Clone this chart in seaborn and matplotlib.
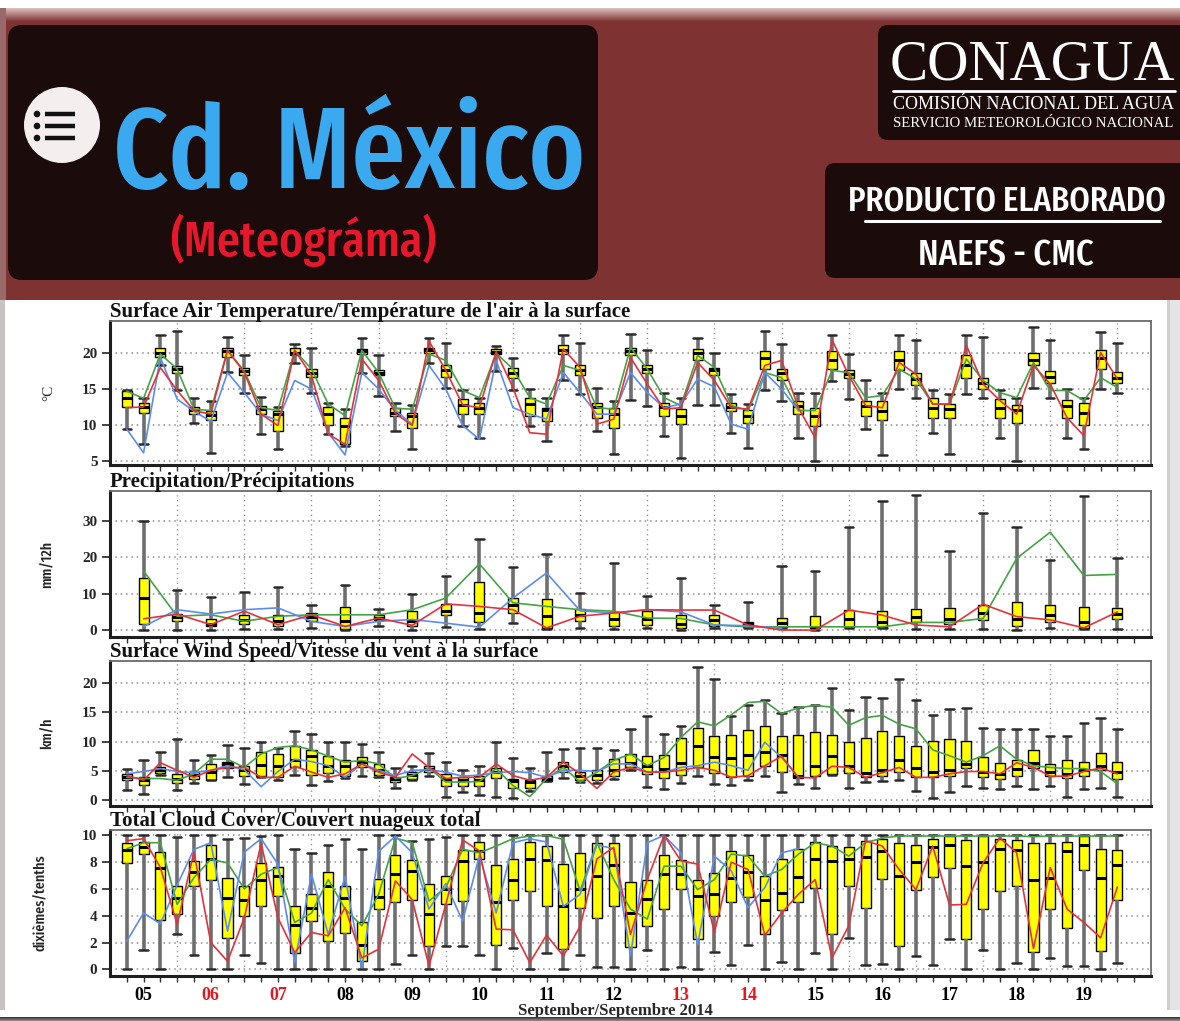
import numpy as np
import pandas as pd
import matplotlib
matplotlib.use('Agg')
import matplotlib.pyplot as plt
from matplotlib import font_manager
from matplotlib.font_manager import FontProperties
from matplotlib.patches import FancyBboxPatch, Rectangle, Circle
import seaborn as sns

# ============================================================================
# DATOS (leidos del meteograma NAEFS-CMC, pasos de 6 h del 05 al 19 sep 2014)
# ============================================================================

steps = list(range(60))            # cajas cada 6 h
steps_12h = list(range(1, 60, 2))  # precipitacion cada 12 h
day_labels = ['05', '06', '07', '08', '09', '10', '11', '12',
              '13', '14', '15', '16', '17', '18', '19']
weekend_days = ['06', '07', '13', '14']

# --- Temperatura (C) ---
t_lo = [9.4, 7.3, 18.3, 14.8, 10.2, 6.1, 17.4, 14.5, 8.7, 6.6,
        18.7, 14.5, 8.7, 7.1, 17.3, 14.1, 9.2, 6.6, 18.6, 15.2,
        9.9, 8.2, 17.5, 14.9, 9.9, 7.8, 16.2, 14.3, 9.2, 5.9,
        13.5, 12.7, 8.5, 5.4, 12.8, 12.8, 8.8, 6.8, 14.9, 13.4,
        8.1, 5.0, 16.1, 13.6, 9.4, 5.8, 15.0, 13.8, 8.8, 5.9,
        14.3, 13.8, 8.2, 5.0, 15.2, 13.8, 8.2, 6.7, 15.0, 14.4]
t_q1 = [12.5, 11.7, 19.5, 17.3, 11.5, 10.7, 19.5, 17.0, 11.5, 9.2,
        19.7, 16.7, 10.0, 7.4, 19.9, 16.9, 11.3, 9.5, 20.1, 16.7,
        11.5, 11.5, 19.9, 16.5, 11.3, 10.6, 19.9, 16.9, 11.0, 9.6,
        19.7, 17.3, 11.3, 10.1, 19.1, 16.9, 12.0, 10.2, 17.8, 16.3,
        11.5, 9.9, 17.8, 16.6, 11.3, 10.7, 17.6, 15.6, 10.9, 11.0,
        16.6, 15.0, 11.0, 10.3, 18.3, 15.8, 10.9, 10.0, 17.8, 15.9]
t_med = [13.8, 12.5, 20.1, 17.8, 12.05, 11.4, 20.3, 17.5, 12.2, 11.5,
         20.1, 17.3, 11.5, 9.9, 20.3, 17.2, 11.7, 11.3, 20.5, 17.6,
         12.8, 12.4, 20.2, 17.3, 12.9, 12.1, 20.5, 17.7, 12.5, 11.5,
         20.3, 17.8, 12.5, 11.3, 20.0, 17.6, 12.5, 11.3, 19.4, 17.2,
         12.7, 11.3, 19.0, 17.1, 12.7, 12.0, 19.0, 16.4, 12.4, 12.2,
         18.3, 15.9, 12.4, 12.1, 19.1, 16.7, 12.7, 11.7, 19.4, 16.5]
t_q3 = [14.7, 13.1, 20.75, 18.2, 12.5, 12.0, 20.7, 17.9, 12.7, 11.9,
        20.7, 17.8, 12.5, 10.9, 20.6, 17.6, 12.3, 11.7, 20.8, 18.3,
        13.6, 13.0, 20.6, 18.0, 13.8, 12.4, 21.1, 18.4, 13.1, 12.3,
        20.8, 18.3, 13.1, 12.2, 20.6, 18.0, 13.1, 12.1, 20.3, 17.8,
        13.4, 12.4, 20.3, 17.6, 13.4, 13.4, 20.3, 17.2, 13.8, 12.9,
        19.7, 16.6, 13.6, 12.8, 20.1, 17.5, 13.5, 13.0, 20.5, 17.4]
t_hi = [14.9, 13.8, 22.5, 23.1, 13.8, 13.3, 22.3, 19.8, 13.9, 12.5,
        21.3, 20.8, 13.1, 12.2, 22.1, 19.8, 13.1, 12.8, 22.1, 21.4,
        14.8, 13.8, 21.0, 19.3, 15.0, 13.8, 22.5, 21.4, 15.2, 13.4,
        22.7, 20.4, 14.5, 13.8, 22.1, 20.1, 14.3, 12.9, 23.1, 21.3,
        14.5, 14.4, 22.5, 19.9, 16.2, 14.4, 22.5, 21.9, 14.8, 14.3,
        22.6, 22.2, 14.8, 13.8, 23.7, 21.8, 15.0, 13.8, 22.9, 21.4]
t_green = [14.7, 13.7, 19.9, 17.8, 12.2, 12.0, 20.4, 17.5, 12.4, 12.0,
           20.4, 17.8, 12.9, 11.3, 20.4, 17.3, 12.3, 12.2, 19.9, 19.0,
           14.8, 13.8, 20.0, 17.8, 13.8, 12.9, 18.3, 17.6, 12.4, 12.2,
           20.8, 17.8, 13.8, 12.7, 19.7, 18.0, 12.7, 12.0, 17.3, 16.6,
           12.0, 12.0, 17.6, 17.3, 13.8, 14.1, 17.8, 16.4, 12.9, 12.9,
           19.2, 16.2, 14.5, 13.8, 18.7, 14.8, 14.8, 13.4, 16.6, 15.2]
t_red = [12.4, 12.5, 18.0, 14.8, 12.0, 11.5, 20.4, 17.3, 11.5, 9.9,
         20.4, 16.9, 8.7, 7.3, 19.2, 16.2, 11.6, 9.9, 21.7, 17.6,
         12.8, 12.4, 20.2, 15.2, 8.9, 8.7, 20.6, 18.0, 10.1, 10.8,
         19.4, 15.7, 12.2, 12.4, 18.7, 16.2, 12.4, 12.2, 18.3, 19.0,
         12.4, 8.2, 21.9, 16.9, 12.7, 12.4, 18.7, 17.1, 12.9, 12.9,
         21.1, 15.7, 13.4, 11.5, 18.3, 15.7, 11.0, 8.5, 20.1, 16.4]
t_blue = [9.4, 6.1, 19.4, 13.6, 11.9, 10.5, 17.3, 14.5, 11.5, 10.6,
          16.2, 15.0, 8.9, 5.8, 17.3, 15.0, 12.0, 10.1, 18.3, 15.0,
          9.9, 8.0, 19.0, 12.4, 11.5, 10.8, 17.3, 14.5, 11.5, 11.5,
          17.3, 14.5, 12.4, 12.9, 16.4, 15.3, 10.1, 9.4, 17.3, 15.0,
          12.0]

# --- Precipitacion (mm/12h) ---
p_lo = [0.1, 0.0, 0.0, 0.2, 0.2, 0.5, 0.0, 1.0, 0.1, 0.8,
        0.4, 1.9, 0.4, 0.6, 0.4, 0.6, 0.0, 0.5, 0.5, 0.5,
        0.0, 0.5, 0.6, 0.3, 0.3, 0.3, 0.0, 0.6, 0.3, 0.3]
p_q1 = [1.8, 2.6, 1.0, 1.8, 1.0, 2.4, 0.4, 2.7, 1.0, 4.2,
        2.1, 4.7, 0.6, 2.6, 1.0, 1.3, 0.5, 1.2, 0.9, 0.9,
        0.5, 0.9, 0.9, 2.3, 1.6, 2.8, 1.2, 2.1, 0.7, 3.0]
p_med = [8.7, 3.5, 1.7, 2.9, 2.4, 3.5, 2.6, 3.3, 2.6, 5.3,
         4.7, 7.0, 3.8, 4.2, 3.1, 3.1, 1.8, 2.8, 1.6, 2.0,
         0.9, 3.0, 2.3, 3.7, 3.0, 4.6, 3.0, 4.1, 2.3, 4.3]
p_q3 = [14.4, 4.4, 3.1, 4.2, 4.2, 4.7, 6.4, 4.1, 5.3, 7.2,
        13.3, 8.8, 8.4, 5.9, 5.0, 5.3, 4.1, 4.1, 2.3, 3.2,
        3.9, 5.5, 5.3, 5.8, 6.0, 6.9, 7.8, 6.9, 6.4, 6.0]
p_hi = [30.0, 10.9, 9.0, 10.5, 11.8, 6.8, 12.3, 5.9, 9.8, 14.8,
        24.9, 17.3, 20.8, 10.2, 18.5, 9.3, 14.4, 6.9, 7.8, 17.7,
        16.2, 28.2, 35.5, 37.0, 21.7, 32.1, 28.2, 19.3, 36.7, 19.7]
p_green = [16.2, 3.8, 4.2, 2.4, 3.8, 4.2, 4.2, 4.2, 5.6, 8.8,
           18.2, 7.5, 6.5, 5.6, 5.2, 3.3, 3.2, 1.4, 0.9, 0.9,
           0.9, 0.9, 0.9, 2.1, 2.1, 3.2, 19.7, 26.9, 15.0, 15.3]
p_red = [3.1, 4.4, 1.5, 5.2, 1.5, 4.2, 1.0, 3.3, 1.3, 7.2,
         6.5, 5.6, 0.6, 3.8, 4.7, 5.6, 5.5, 5.5, 1.4, 0.0,
         0.0, 5.5, 4.1, 1.4, 0.9, 7.1, 3.7, 2.8, 0.6, 5.0]
p_blue = [1.0, 5.6, 4.4, 5.6, 6.1, 2.4, 1.0, 2.4, 2.9, 1.9,
          0.8, 8.8, 15.7, 5.3, 4.7, 5.6, 5.0, 1.4, 1.2, 0.5]

# --- Viento (km/h) ---
w_lo = [1.7, 1.0, 4.3, 1.7, 3.0, 3.4, 3.9, 2.8, 3.9, 3.4,
        4.3, 2.6, 3.2, 3.8, 4.1, 3.9, 2.0, 3.4, 4.1, 0.6,
        1.4, 0.8, 0.6, 0.4, 1.5, 3.2, 3.8, 3.1, 3.0, 3.7,
        5.2, 2.3, 1.9, 3.0, 4.2, 2.8, 2.6, 3.4, 4.1, 1.4,
        2.8, 2.0, 4.3, 2.1, 3.1, 3.2, 3.4, 1.5, 0.3, 1.4,
        2.4, 2.0, 1.9, 2.5, 1.9, 2.5, 0.6, 1.9, 2.1, 0.6]
w_q1 = [3.4, 2.6, 4.7, 3.0, 3.7, 3.5, 5.5, 4.1, 4.2, 3.9,
        5.6, 4.3, 4.7, 4.2, 5.6, 4.3, 3.1, 3.7, 4.9, 2.5,
        2.4, 2.5, 3.8, 2.1, 2.1, 3.2, 4.8, 3.5, 3.5, 4.1,
        5.6, 4.5, 3.8, 4.3, 5.6, 4.7, 3.9, 4.2, 5.8, 4.9,
        3.8, 4.2, 4.5, 4.7, 3.9, 4.1, 4.9, 3.9, 3.9, 4.2,
        5.5, 3.9, 3.7, 4.1, 5.5, 4.2, 3.8, 4.2, 5.1, 3.7]
w_med = [3.9, 3.4, 5.2, 3.7, 4.3, 4.9, 6.2, 5.1, 6.0, 5.8,
         6.8, 7.5, 5.8, 5.8, 6.6, 5.1, 3.7, 4.3, 5.4, 3.7,
         3.4, 3.4, 4.9, 3.2, 3.1, 3.7, 5.8, 4.2, 4.3, 5.1,
         6.4, 5.9, 5.4, 6.4, 9.3, 7.3, 7.2, 7.7, 8.2, 7.7,
         4.1, 5.8, 7.6, 5.9, 4.7, 5.2, 6.8, 5.5, 4.9, 5.2,
         6.2, 4.9, 4.5, 5.4, 6.4, 4.8, 4.5, 5.1, 5.9, 4.9]
w_q3 = [4.5, 3.9, 5.6, 4.5, 4.9, 6.2, 6.6, 5.8, 8.2, 7.9,
        9.2, 8.6, 7.6, 6.9, 7.3, 6.2, 3.9, 4.9, 5.8, 4.5,
        3.9, 4.1, 5.5, 3.7, 3.5, 4.1, 6.6, 4.8, 5.1, 7.0,
        7.9, 7.5, 7.7, 10.7, 12.4, 11.0, 11.1, 12.0, 12.7, 11.0,
        11.1, 11.7, 11.1, 9.9, 10.7, 11.8, 10.9, 9.3, 10.1, 10.4,
        10.1, 7.3, 6.4, 6.9, 8.6, 6.2, 6.9, 6.6, 8.1, 6.5]
w_hi = [5.4, 6.8, 8.3, 10.5, 6.8, 7.7, 9.4, 9.0, 9.9, 9.0,
        11.8, 11.3, 9.9, 9.9, 9.6, 8.2, 5.5, 5.9, 8.1, 6.6,
        5.2, 5.9, 9.9, 7.2, 5.5, 8.2, 8.8, 9.0, 9.0, 8.5,
        12.1, 14.4, 11.3, 12.6, 22.7, 20.8, 14.4, 16.3, 17.1, 14.9,
        15.9, 16.3, 19.2, 15.4, 17.7, 17.5, 20.8, 17.2, 14.5, 15.6,
        15.8, 12.4, 12.2, 12.2, 12.2, 10.9, 10.9, 13.2, 14.1, 12.1]
w_green = [3.9, 3.7, 3.7, 3.4, 4.5, 7.0, 7.0, 5.6, 7.9, 9.0,
           9.3, 8.6, 7.5, 6.5, 6.8, 6.2, 3.7, 4.2, 5.5, 3.1,
           3.1, 3.2, 5.4, 2.5, 0.6, 3.7, 5.6, 3.1, 4.8, 6.8,
           7.9, 5.9, 7.3, 10.7, 13.4, 12.7, 14.6, 16.7, 16.9, 14.8,
           15.8, 16.2, 15.9, 12.8, 14.1, 14.5, 13.0, 12.2, 8.6, 7.6,
           6.5, 7.6, 9.3, 7.0, 5.9, 5.6, 5.4, 5.4, 4.9, 2.8]
w_red = [4.2, 3.4, 6.4, 5.1, 3.9, 5.1, 5.6, 5.6, 3.9, 3.9,
         5.8, 4.8, 3.9, 4.5, 6.2, 4.8, 3.9, 7.9, 5.6, 3.7,
         3.9, 3.9, 6.2, 4.2, 3.4, 3.9, 6.5, 4.5, 2.0, 4.8,
         5.6, 4.8, 4.8, 5.1, 5.6, 5.1, 3.9, 4.2, 5.9, 7.5,
         3.9, 3.8, 5.8, 5.6, 3.9, 4.7, 5.6, 3.9, 3.9, 4.5,
         4.9, 4.9, 4.5, 6.4, 5.6, 4.1, 4.1, 4.9, 5.5, 4.5]
w_blue = [4.5, 4.9, 5.4, 4.9, 4.7, 5.1, 5.9, 5.2, 2.3, 4.9,
          7.0, 6.6, 5.9, 3.9, 6.2, 5.1, 4.2, 5.1, 5.2, 4.8,
          4.1, 4.3, 4.7, 4.9, 4.7, 3.9, 5.1, 5.1, 4.9, 6.2,
          6.2, 4.8, 4.8, 5.6, 5.9, 6.5, 5.9, 5.1, 9.9, 7.3,
          3.9]

# --- Nubosidad total (decimos) ---
c_lo = [0.0, 1.45, 0.0, 2.6, 1.05, 0.0, 0.0, 1.05, 0.45, 0.0,
        0.0, 0.0, 0.0, 0.0, 0.0, 0.0, 0.4, 1.1, 0.0, 1.75,
        1.75, 1.05, 0.0, 1.6, 0.0, 1.2, 0.0, 1.1, 0.2, 0.2,
        0.0, 1.45, 0.0, 0.2, 0.0, 1.3, 0.3, 1.85, 0.0, 0.55,
        0.0, 1.2, 0.0, 2.35, 0.3, 0.4, 0.0, 1.0, 0.3, 2.25,
        0.0, 1.45, 0.0, 0.5, 0.0, 0.85, 0.25, 0.25, 0.0, 0.5]
c_q1 = [7.96, 8.6, 3.7, 4.1, 6.2, 6.7, 2.35, 4.0, 4.7, 5.5,
        1.25, 3.6, 2.1, 2.7, 0.6, 4.5, 5.0, 5.2, 1.75, 4.85,
        5.1, 8.2, 1.85, 5.2, 5.85, 4.7, 1.5, 4.6, 3.85, 4.7,
        1.7, 3.25, 4.5, 6.0, 2.25, 4.0, 5.0, 5.4, 2.6, 4.45,
        5.0, 6.1, 2.6, 6.2, 4.6, 6.75, 1.75, 5.95, 6.9, 7.6,
        2.25, 4.5, 5.85, 6.25, 1.3, 4.5, 3.05, 7.45, 1.35, 5.15]
c_med = [8.9, 9.1, 7.6, 5.3, 7.3, 8.25, 5.35, 5.2, 6.7, 6.95,
         3.3, 4.6, 6.2, 5.35, 1.8, 5.4, 7.15, 7.35, 4.1, 6.0,
         8.1, 8.85, 5.0, 6.65, 8.25, 8.15, 4.7, 6.0, 7.0, 7.75,
         4.2, 5.25, 7.1, 7.15, 5.5, 5.6, 6.85, 7.25, 5.2, 5.7,
         6.9, 8.2, 8.1, 8.25, 8.4, 8.85, 6.95, 8.0, 9.15, 9.25,
         7.7, 8.0, 9.0, 8.9, 6.65, 6.85, 8.85, 9.25, 6.85, 7.75]
c_q3 = [9.45, 9.5, 8.75, 6.2, 8.1, 9.25, 6.85, 6.2, 7.9, 7.65,
        4.7, 5.6, 7.25, 6.25, 3.5, 6.75, 8.5, 8.15, 6.35, 7.0,
        8.9, 9.5, 7.75, 8.2, 9.5, 9.2, 7.85, 8.7, 9.45, 9.4,
        6.5, 6.7, 8.5, 8.15, 6.7, 7.2, 8.85, 8.5, 6.95, 8.25,
        9.0, 9.5, 9.2, 9.15, 9.6, 9.75, 9.4, 9.3, 9.75, 9.95,
        9.65, 9.95, 9.75, 9.65, 9.45, 9.45, 9.5, 9.95, 9.0, 8.9]
c_hi = [10.0, 10.0, 10.0, 9.9, 10.0, 10.0, 9.7, 9.8, 9.95, 10.0,
        9.0, 8.7, 9.25, 9.75, 9.0, 10.0, 10.0, 9.6, 9.75, 9.9,
        10.0, 10.0, 10.0, 10.0, 10.0, 10.0, 10.0, 10.0, 10.0, 10.0,
        10.0, 10.0, 10.0, 10.0, 10.0, 10.0, 10.0, 10.0, 10.0, 10.0,
        10.0, 10.0, 10.0, 10.0, 10.0, 10.0, 10.0, 10.0, 10.0, 10.0,
        10.0, 10.0, 10.0, 10.0, 10.0, 10.0, 10.0, 10.0, 10.0, 10.0]
c_green = [9.0, 9.45, 9.45, 4.85, 6.85, 8.2, 7.95, 6.0, 7.1, 7.6,
           3.5, 4.2, 6.7, 4.5, 3.25, 5.6, 9.8, 9.45, 5.1, 6.1,
           8.95, 8.7, 9.2, 9.75, 9.95, 10.0, 9.7, 5.85, 9.45, 6.7,
           4.5, 3.75, 7.7, 7.7, 5.95, 6.7, 8.6, 8.45, 6.95, 7.45,
           8.6, 9.45, 9.2, 8.45, 9.45, 9.8, 9.95, 9.95, 9.95, 9.95,
           9.95, 9.95, 9.95, 9.95, 9.9, 9.95, 9.95, 9.95, 9.95, 9.95]
c_red = [9.6, 9.75, 7.6, 3.35, 8.75, 2.0, 0.6, 3.85, 9.4, 3.85,
         1.25, 2.75, 2.5, 4.6, 0.85, 1.5, 6.6, 5.2, 0.25, 4.85,
         9.65, 8.85, 3.0, 2.95, 0.5, 2.55, 1.0, 3.2, 8.25, 9.1,
         2.6, 6.7, 10.0, 8.1, 7.85, 2.75, 8.0, 7.45, 2.55, 4.2,
         5.6, 6.7, 0.85, 3.25, 9.6, 9.2, 7.45, 5.95, 9.2, 4.8,
         4.85, 7.95, 9.8, 8.7, 1.55, 7.6, 4.5, 3.5, 2.35, 6.15]
c_blue = [2.1, 4.2, 3.4, 6.3, 8.95, 9.45, 2.85, 8.75, 9.75, 7.85,
          0.5, 7.1, 2.6, 6.95, 0.1, 8.8, 9.95, 8.7, 4.5, 6.4,
          3.6, 8.5, 4.2, 9.45, 9.75, 9.5, 4.7, 5.6, 9.3, 9.0,
          1.0, 9.45, 10.0, 8.7, 1.85, 8.45, 7.35, 4.6, 6.1, 8.7,
          9.0]

# ============================================================================
# ESTILO
# ============================================================================

sns.set_style('ticks')
plt.rcParams['font.family'] = ['Liberation Serif', 'DejaVu Serif']


# buscar una fuente condensada instalada (para los rotulos del encabezado)
def condensed_font():
    ranks = {'ultra-condensed': 4, 'extra-condensed': 3, 'condensed': 2, 'semi-condensed': 1}
    best, best_score = None, 0
    for f in font_manager.fontManager.ttflist:
        name = f.name.lower().replace(' ', '')
        score = ranks.get(str(f.stretch).lower(), 0)
        if 'extracondensed' in name or 'ultracondensed' in name:
            score = max(score, 3)
        elif 'condensed' in name or 'narrow' in name:
            score = max(score, 2)
        if score == 0 or f.style != 'normal':
            continue
        if f.weight not in (400, 'normal', 'regular', 'book', 500, 'medium'):
            continue
        if 'mono' in name or 'serif' in name:
            continue
        if score > best_score:
            best, best_score = f, score
    if best is None:
        return FontProperties(family='DejaVu Sans')
    return FontProperties(fname=best.fname)


narrow_fp = condensed_font()

MAROON = '#7e3232'
DARK = '#1b0b0b'
GREEN = '#45a345'
RED = '#e5323a'
BLUE = '#5b8def'

fig = plt.figure(figsize=(11.8, 10.21), dpi=100)
W, H = 1180, 1021

# ---------------------------------------------------------------------------
# Encabezado (banner)
# ---------------------------------------------------------------------------
bg = fig.add_axes([0, 0, 1, 1], zorder=-5)
bg.set_xlim(0, W)
bg.set_ylim(H, 0)
bg.axis('off')

bg.add_patch(Rectangle((5, 8), W - 5, 292, color=MAROON, lw=0))
top_cols = sns.blend_palette(['#dcbcbc', MAROON], 14)
for k, col in enumerate(top_cols):
    bg.add_patch(Rectangle((5, 8 + k), W - 5, 1.05, color=col, lw=0))
bg.add_patch(Rectangle((0, 8), 6, 292, color='#9a6a6a', lw=0))

bg.add_patch(FancyBboxPatch((8, 25), 590, 255, boxstyle='round,pad=0,rounding_size=14',
                            color=DARK, lw=0))
bg.add_patch(FancyBboxPatch((878, 25), 320, 115, boxstyle='round,pad=0,rounding_size=10',
                            color=DARK, lw=0))
bg.add_patch(FancyBboxPatch((825, 163), 370, 115, boxstyle='round,pad=0,rounding_size=10',
                            color=DARK, lw=0))

# icono de menu
bg.add_patch(Circle((62, 125), 38, color='#f4eeee', lw=0))
for yy in (114, 126, 138):
    bg.add_patch(Circle((37, yy), 3.3, color='#111111', lw=0))
    bg.plot([45, 75], [yy, yy], color='#111111', lw=3.2, solid_capstyle='butt')

fits = []
t = bg.text(113, 188, 'Cd. México', color='#3aa9f0', fontproperties=narrow_fp,
            fontsize=80, ha='left', va='baseline')
fits.append((t, 472))
t = bg.text(170, 256, '(Meteográma)', color='#e8182c', fontproperties=narrow_fp,
            fontsize=30, ha='left', va='baseline')
fits.append((t, 265))
t = bg.text(890, 80, 'CONAGUA', color='white', fontsize=30,
            family='Liberation Serif', ha='left', va='baseline')
fits.append((t, 285))
bg.plot([893, 1175], [91, 91], color='white', lw=2)
t = bg.text(893, 109, 'COMISIÓN NACIONAL DEL AGUA', color='white', fontsize=10,
            family='Liberation Serif', ha='left', va='baseline')
fits.append((t, 282))
t = bg.text(893, 127, 'SERVICIO METEOROLÓGICO NACIONAL', color='white', fontsize=8,
            family='Liberation Serif', ha='left', va='baseline')
fits.append((t, 282))
t = bg.text(848, 210, 'PRODUCTO ELABORADO', color='white', fontproperties=narrow_fp,
            fontsize=24, ha='left', va='baseline')
fits.append((t, 317))
bg.plot([865, 1160], [221, 221], color='white', lw=2.2)
t = bg.text(918, 265, 'NAEFS - CMC', color='white', fontproperties=narrow_fp,
            fontsize=24, ha='left', va='baseline')
fits.append((t, 176))

# bordes grises del recuadro blanco
bg.add_patch(Rectangle((0, 300), 5, 710, color='#c9c2c2', lw=0))
bg.add_patch(Rectangle((1167, 300), 13, 710, color='#e4e4e4', lw=0))
bg.add_patch(Rectangle((1167, 300), 3, 710, color='#cfcfcf', lw=0))

# ---------------------------------------------------------------------------
# Paneles del meteograma
# ---------------------------------------------------------------------------
ax_left, ax_width = 110 / W, 1041 / W
panel_px = [(321, 465), (491, 637), (661, 806), (830, 976)]
axes = [fig.add_axes([ax_left, 1 - b / H, ax_width, (b - tp) / H]) for tp, b in panel_px]


def draw_panel(ax, x, lo, q1, med, q3, hi, width):
    df = pd.DataFrame({'paso': np.repeat(x, 5),
                       'valor': np.column_stack([lo, q1, med, q3, hi]).ravel()})
    sns.boxplot(data=df, x='paso', y='valor', native_scale=True, whis=(0, 100),
                width=width, color='#ffff00', saturation=1, linecolor='black',
                linewidth=1, fliersize=0, ax=ax,
                medianprops=dict(color='black', linewidth=2.2),
                whiskerprops=dict(color='#6e6e6e', linewidth=2.6),
                capprops=dict(color='#2a2a2a', linewidth=1.8),
                capwidths=0.5)


panels = [
    dict(x=steps, box=(t_lo, t_q1, t_med, t_q3, t_hi), width=0.6,
         lines=[(steps, t_green, GREEN), (steps[:len(t_blue)], t_blue, BLUE), (steps, t_red, RED)],
         ylim=(4.4, 24.5), yticks=[5, 10, 15, 20], ylabel='°C',
         title="Surface Air Temperature/Température de l'air à la surface"),
    dict(x=steps_12h, box=(p_lo, p_q1, p_med, p_q3, p_hi), width=0.3,
         lines=[(steps_12h, p_green, GREEN), (steps_12h[:len(p_blue)], p_blue, BLUE),
                (steps_12h, p_red, RED)],
         ylim=(-1.9, 38.2), yticks=[0, 10, 20, 30], ylabel='mm/12h',
         title='Precipitation/Précipitations'),
    dict(x=steps, box=(w_lo, w_q1, w_med, w_q3, w_hi), width=0.6,
         lines=[(steps, w_green, GREEN), (steps[:len(w_blue)], w_blue, BLUE), (steps, w_red, RED)],
         ylim=(-1.0, 23.8), yticks=[0, 5, 10, 15, 20], ylabel='km/h',
         title='Surface Wind Speed/Vitesse du vent à la surface'),
    dict(x=steps, box=(c_lo, c_q1, c_med, c_q3, c_hi), width=0.6,
         lines=[(steps, c_green, GREEN), (steps[:len(c_blue)], c_blue, BLUE), (steps, c_red, RED)],
         ylim=(-0.5, 10.4), yticks=[0, 2, 4, 6, 8, 10], ylabel='dixièmes/tenths',
         title='Total Cloud Cover/Couvert nuageux total'),
]

for k, (ax, p) in enumerate(zip(axes, panels)):
    ax.set_facecolor('white')
    ax.set_axisbelow(True)
    draw_panel(ax, p['x'], *p['box'], p['width'])
    for xs, ys, col in p['lines']:
        sns.lineplot(x=xs, y=ys, color=col, linewidth=1.2, ax=ax, zorder=4)

    ax.set_xlim(-1, 61)
    ax.set_ylim(*p['ylim'])
    ax.set_yticks(p['yticks'])
    ax.set_yticklabels([str(v) for v in p['yticks']], fontweight='bold', fontsize=11)
    ax.grid(axis='y', color='#8c8c8c', linestyle=(0, (1, 2.5)), linewidth=1.1)
    for g in range(3, 60, 4):
        ax.axvline(g, color='#9a9a9a', linestyle=(0, (1, 2.5)), linewidth=1, zorder=0.5)

    ax.set_xticks(range(0, 61))
    ax.tick_params(axis='x', length=4, width=1, color='#333333')
    ax.tick_params(axis='y', length=6, width=1.2, color='#222222', pad=3)
    if k < 3:
        ax.set_xticklabels([])
    else:
        labels = [''] * 61
        for d, lab in enumerate(day_labels):
            labels[1 + 4 * d] = lab
        ax.set_xticklabels(labels, fontweight='bold', fontsize=13)
        ax.tick_params(axis='x', pad=4)
        for tl, lab in zip(ax.get_xticklabels(), labels):
            tl.set_color('#e3181e' if lab in weekend_days else 'black')

    ax.set_xlabel('')
    if k == 0:
        ax.set_ylabel(p['ylabel'], family='Liberation Serif', fontsize=11)
    else:
        ax.set_ylabel(p['ylabel'], fontproperties=narrow_fp, fontsize=11)
    ax.yaxis.set_label_coords(-(55 if k < 3 else 62) / 1041, 0.5)

    for side in ('top', 'right'):
        ax.spines[side].set_color('#6a6a6a')
        ax.spines[side].set_linewidth(1.3)
    for side in ('left', 'bottom'):
        ax.spines[side].set_color('#1e1e1e')
        ax.spines[side].set_linewidth(2.2)

    ax.text(0, 1 + 4 / 145, p['title'], transform=ax.transAxes, ha='left',
            va='baseline', fontweight='bold', fontsize=15, color='#111111')

fig.text(615 / W, 1 - 1011 / H, 'September/Septembre 2014', ha='center', va='center',
         fontweight='bold', fontsize=12)

# sombra inferior
fg = fig.add_axes([0, 0, 1, 1], zorder=10)
fg.set_xlim(0, W)
fg.set_ylim(H, 0)
fg.axis('off')
fg.patch.set_alpha(0)
bot_cols = sns.blend_palette(['#3a3a3a', '#8a8a8a'], 4)
for k, col in enumerate(bot_cols):
    fg.add_patch(Rectangle((0, 1017 + k), W, 1.05, color=col, lw=0))

# ajustar ancho de los textos del encabezado
fig.canvas.draw()
renderer = fig.canvas.get_renderer()
for txt, target in fits:
    w = txt.get_window_extent(renderer).width
    txt.set_fontsize(txt.get_fontsize() * target / w)

plt.savefig('out.png', dpi=100)
plt.close()
